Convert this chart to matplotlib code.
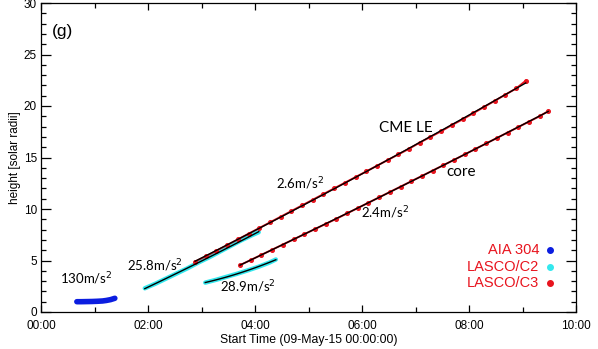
import matplotlib
matplotlib.use("Agg")
import matplotlib.pyplot as plt
from matplotlib.ticker import MultipleLocator, FuncFormatter
import numpy as np

# ---- data (hours since 09-May-15 00:00, heights in solar radii) ----
aia_t = [0.67, 0.75, 0.85, 0.95, 1.05, 1.15, 1.22, 1.30, 1.38]
aia_h = [1.00, 1.00, 1.01, 1.02, 1.04, 1.07, 1.12, 1.20, 1.33]

c2_le_t = [1.94, 2.14, 2.34, 2.54, 2.74, 2.94, 3.14, 3.34, 3.54, 3.74, 3.94, 4.07]
c2_le_h = [2.30, 2.75, 3.25, 3.75, 4.25, 4.80, 5.30, 5.85, 6.40, 6.95, 7.45, 7.75]

c2_core_t = [3.07, 3.27, 3.47, 3.67, 3.87, 4.07, 4.27, 4.39]
c2_core_h = [2.85, 3.12, 3.42, 3.72, 4.05, 4.40, 4.80, 5.10]

c3_le_t = [2.88, 3.08, 3.28, 3.48, 3.68, 3.88, 4.08, 4.28, 4.48, 4.68, 4.88,
           5.08, 5.28, 5.48, 5.68, 5.88, 6.08, 6.28, 6.48, 6.68, 6.88, 7.08,
           7.28, 7.48, 7.68, 7.88, 8.08, 8.28, 8.48, 8.68, 8.88, 9.06]
c3_le_h = [4.90, 5.40, 5.95, 6.50, 7.05, 7.60, 8.15, 8.70, 9.25, 9.80, 10.35,
           10.90, 11.45, 12.00, 12.55, 13.10, 13.65, 14.20, 14.75, 15.30, 15.85, 16.45,
           17.00, 17.55, 18.15, 18.70, 19.30, 19.90, 20.50, 21.10, 21.70, 22.45]

c3_core_t = [3.72, 3.92, 4.12, 4.32, 4.52, 4.72, 4.92, 5.12, 5.32, 5.52, 5.72,
             5.92, 6.12, 6.32, 6.52, 6.72, 6.92, 7.12, 7.32, 7.52, 7.72, 7.92,
             8.12, 8.32, 8.52, 8.72, 8.92, 9.12, 9.32, 9.48]
c3_core_h = [4.55, 5.05, 5.55, 6.05, 6.55, 7.05, 7.55, 8.05, 8.55, 9.05, 9.57,
             10.09, 10.61, 11.13, 11.65, 12.17, 12.69, 13.21, 13.73, 14.25, 14.77, 15.30,
             15.83, 16.36, 16.89, 17.42, 17.95, 18.48, 19.01, 19.50]

accel_labels = ["130m/s$^2$", "25.8m/s$^2$", "28.9m/s$^2$", "2.6m/s$^2$", "2.4m/s$^2$"]
accel_pos = [(0.84, 3.2), (2.13, 4.47), (3.87, 2.43), (4.84, 12.5), (6.43, 9.6)]
legend_names = ["AIA 304", "LASCO/C2", "LASCO/C3"]
legend_colors = ["#0b1de0", "#33e8ee", "#e8141e"]

# ---- figure ----
fig = plt.figure(figsize=(5.98, 3.49), dpi=100)
ax = fig.add_axes([41/598, 37/349, 535/598, 309/349])

ann_font = "Lato"
tick_font = "Liberation Sans"

def quad_fit(t, h):
    t = np.asarray(t); h = np.asarray(h)
    p = np.polyfit(t, h, 2)
    tt = np.linspace(t.min(), t.max(), 100)
    return tt, np.polyval(p, tt)

# AIA 304
ax.plot(aia_t, aia_h, color=legend_colors[0], lw=4, solid_capstyle="round", zorder=3)

# LASCO C2 (cyan thick + black fit)
for t, h in [(c2_le_t, c2_le_h), (c2_core_t, c2_core_h)]:
    ax.plot(t, h, color=legend_colors[1], lw=3.2, solid_capstyle="round", zorder=3)
    tt, hh = quad_fit(t, h)
    ax.plot(tt, hh, color="black", lw=1.0, zorder=4)

# LASCO C3 (red dots + black fit)
for t, h in [(c3_le_t, c3_le_h), (c3_core_t, c3_core_h)]:
    ax.plot(t, h, color=legend_colors[2], lw=1.4, zorder=3)
    ax.plot(t, h, 'o', color=legend_colors[2], ms=2.6, zorder=3)
    tt, hh = quad_fit(t, h)
    ax.plot(tt, hh, color="black", lw=1.0, zorder=4)

# annotations
for lab, (x, y) in zip(accel_labels, accel_pos):
    ax.text(x, y, lab, fontsize=9.5, family=ann_font, ha="center", va="center")
ax.text(6.82, 17.9, "CME LE", fontsize=11, family=ann_font, ha="center", va="center")
ax.text(7.85, 13.6, "core", fontsize=11, family=ann_font, ha="center", va="center")
ax.text(0.2, 27.2, "(g)", fontsize=12.5, family=tick_font, ha="left", va="center")

# legend as text
leg_y = [6.0, 4.4, 2.8]
for name, c, y in zip(legend_names, legend_colors, leg_y):
    ax.text(9.31, y, name, color="#e8141e", fontsize=10.5, family=tick_font,
            ha="right", va="center")
    ax.plot([9.51], [y], 'o', color=c, ms=4, zorder=5)

# axes
ax.set_xlim(0, 10)
ax.set_ylim(0, 30)
ax.xaxis.set_major_locator(MultipleLocator(2))
ax.xaxis.set_minor_locator(MultipleLocator(1))
ax.yaxis.set_major_locator(MultipleLocator(5))
ax.yaxis.set_minor_locator(MultipleLocator(1))
ax.xaxis.set_major_formatter(FuncFormatter(lambda v, p: "%02d:00" % int(round(v))))
ax.tick_params(which="both", direction="in", top=True, right=True, width=0.9)
ax.tick_params(which="major", axis="y", length=7.5, pad=3)
ax.tick_params(which="major", axis="x", length=5, pad=6)
ax.tick_params(which="minor", length=3.5)
for lab in ax.get_xticklabels() + ax.get_yticklabels():
    lab.set_family(tick_font)
    lab.set_fontsize(8.5)
for s in ax.spines.values():
    s.set_linewidth(0.9)

ax.set_xlabel("Start Time (09-May-15 00:00:00)", fontsize=8.8, family=tick_font, labelpad=1)
ax.set_ylabel("height [solar radii]", fontsize=8.5, family=tick_font, labelpad=2)

fig.savefig("out.png", dpi=100)
